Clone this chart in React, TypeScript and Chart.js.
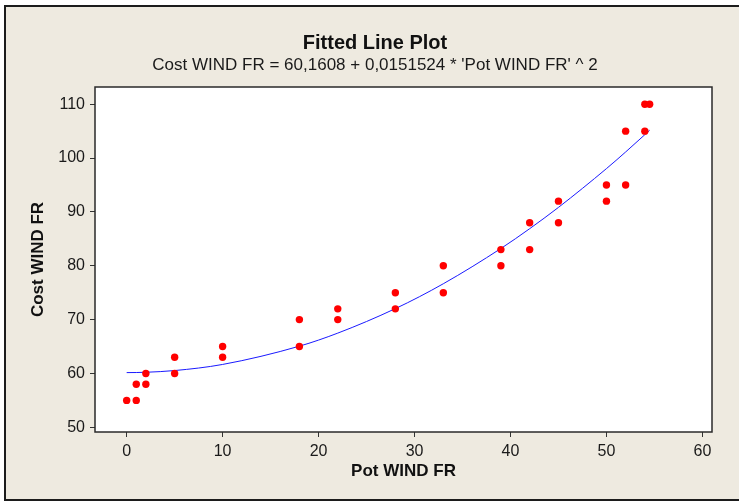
import { useEffect, useRef } from "react";
import { Chart, registerables } from "chart.js";

Chart.register(...registerables);

// Observations: power (Pot WIND FR) vs cost (Cost WIND FR)
const potWind = [0, 1, 1, 2, 2, 5, 5, 10, 10, 18, 18, 22, 22, 28, 28, 33, 33, 39, 39, 42, 42, 45, 45, 50, 50, 52, 52, 54, 54, 54.5];
const costWind = [55, 55, 58, 58, 60, 60, 63, 63, 65, 65, 70, 70, 72, 72, 75, 75, 80, 80, 83, 83, 88, 88, 92, 92, 95, 95, 105, 105, 110, 110];

// Quadratic fit: Cost = a + b * Pot^2
const fitIntercept = 60.1608;
const fitCoef = 0.0151524;

const xTicks = [0, 10, 20, 30, 40, 50, 60];
const yTicks = [50, 60, 70, 80, 90, 100, 110];

const chartTitle = "Fitted Line Plot";
const chartSubtitle = "Cost WIND FR = 60,1608 + 0,0151524 * 'Pot WIND FR' ^ 2";
const xTitle = "Pot WIND FR";
const yTitle = "Cost WIND FR";

const FONT = "'Liberation Sans', Arial, Helvetica, sans-serif";
const INK = "#1a1a1a";
const PANEL = "#EEEAE0";

// White plotting region with a dark frame
const plotFrame = {
  id: "plotFrame",
  beforeDraw(chart: any) {
    const { ctx, chartArea: a } = chart;
    ctx.save();
    ctx.fillStyle = "#ffffff";
    ctx.fillRect(a.left, a.top, a.right - a.left, a.bottom - a.top);
    ctx.restore();
  },
  afterDraw(chart: any) {
    const { ctx, chartArea: a } = chart;
    ctx.save();
    ctx.strokeStyle = "#2a2a2a";
    ctx.lineWidth = 1.5;
    ctx.strokeRect(a.left, a.top, a.right - a.left, a.bottom - a.top);
    ctx.restore();
  },
};

export default function App() {
  const canvasRef = useRef<HTMLCanvasElement | null>(null);

  useEffect(() => {
    const canvas = canvasRef.current;
    if (!canvas) return;

    const points = potWind.map((x, i) => ({ x, y: costWind[i] }));
    const fitXs = Array.from(new Set(potWind)).sort((a, b) => a - b);
    const fitLine = fitXs.map((x) => ({ x, y: fitIntercept + fitCoef * x * x }));

    const chart = new Chart(canvas, {
      type: "scatter",
      data: {
        datasets: [
          {
            type: "line",
            label: "Fit",
            data: fitLine,
            borderColor: "#1a1aff",
            borderWidth: 1,
            pointRadius: 0,
            fill: false,
            cubicInterpolationMode: "monotone",
            order: 2,
          } as any,
          {
            type: "scatter",
            label: "Data",
            data: points,
            backgroundColor: "#ff0000",
            borderWidth: 0,
            pointRadius: 3.7,
            order: 1,
          },
        ],
      },
      options: {
        animation: false,
        responsive: false,
        devicePixelRatio: 1,
        layout: { padding: { left: 11, right: 0, top: 0, bottom: 0 } },
        plugins: {
          legend: { display: false },
          tooltip: { enabled: false },
          title: {
            display: true,
            text: chartTitle,
            color: "#111",
            font: { family: FONT, size: 20, weight: "bold" },
            padding: { top: 31, bottom: 0 },
          },
          subtitle: {
            display: true,
            text: chartSubtitle,
            color: INK,
            font: { family: FONT, size: 17, weight: "normal" },
            padding: { top: 0, bottom: 11.6 },
          },
        },
        scales: {
          x: {
            type: "linear",
            min: -3.3,
            max: 61,
            afterBuildTicks: (s: any) => {
              s.ticks = xTicks.map((v) => ({ value: v }));
            },
            afterFit: (s: any) => {
              s.height = 70;
            },
            ticks: {
              color: INK,
              font: { family: FONT, size: 16 },
              padding: 5,
              maxRotation: 0,
            },
            grid: {
              drawOnChartArea: false,
              drawTicks: true,
              tickLength: 5,
              tickColor: "#333",
              color: "#333",
            },
            border: { display: false },
            title: {
              display: true,
              text: xTitle,
              color: "#111",
              font: { family: FONT, size: 17, weight: "bold" },
              padding: { top: 0, bottom: 20 },
            },
          },
          y: {
            type: "linear",
            min: 49.13,
            max: 113.2,
            afterBuildTicks: (s: any) => {
              s.ticks = yTicks.map((v) => ({ value: v }));
            },
            afterFit: (s: any) => {
              s.width = 84;
            },
            ticks: {
              color: INK,
              font: { family: FONT, size: 16 },
              padding: 5,
            },
            grid: {
              drawOnChartArea: false,
              drawTicks: true,
              tickLength: 5,
              tickColor: "#333",
              color: "#333",
            },
            border: { display: false },
            title: {
              display: true,
              text: yTitle,
              color: "#111",
              font: { family: FONT, size: 17, weight: "bold" },
              padding: { top: 17.3, bottom: 0 },
            },
          },
          // empty right-hand margin strip beside the plot
          yMargin: {
            type: "linear",
            position: "right",
            display: true,
            ticks: { display: false },
            grid: { display: false },
            border: { display: false },
            afterFit: (s: any) => {
              s.width = 27;
            },
          },
        },
      },
      plugins: [plotFrame],
    });

    return () => chart.destroy();
  }, []);

  return (
    <div
      style={{
        position: "absolute",
        left: 0,
        top: 0,
        width: 739,
        height: 502,
        overflow: "hidden",
        background: "#ffffff",
      }}
    >
      <div
        style={{
          position: "absolute",
          left: 4,
          top: 5,
          width: 800,
          height: 496,
          boxSizing: "border-box",
          border: "2px solid #1c1c1c",
          background: PANEL,
        }}
      />
      <canvas
        ref={canvasRef}
        width={739}
        height={502}
        style={{ position: "absolute", left: 0, top: 0, width: 739, height: 502 }}
      />
    </div>
  );
}
